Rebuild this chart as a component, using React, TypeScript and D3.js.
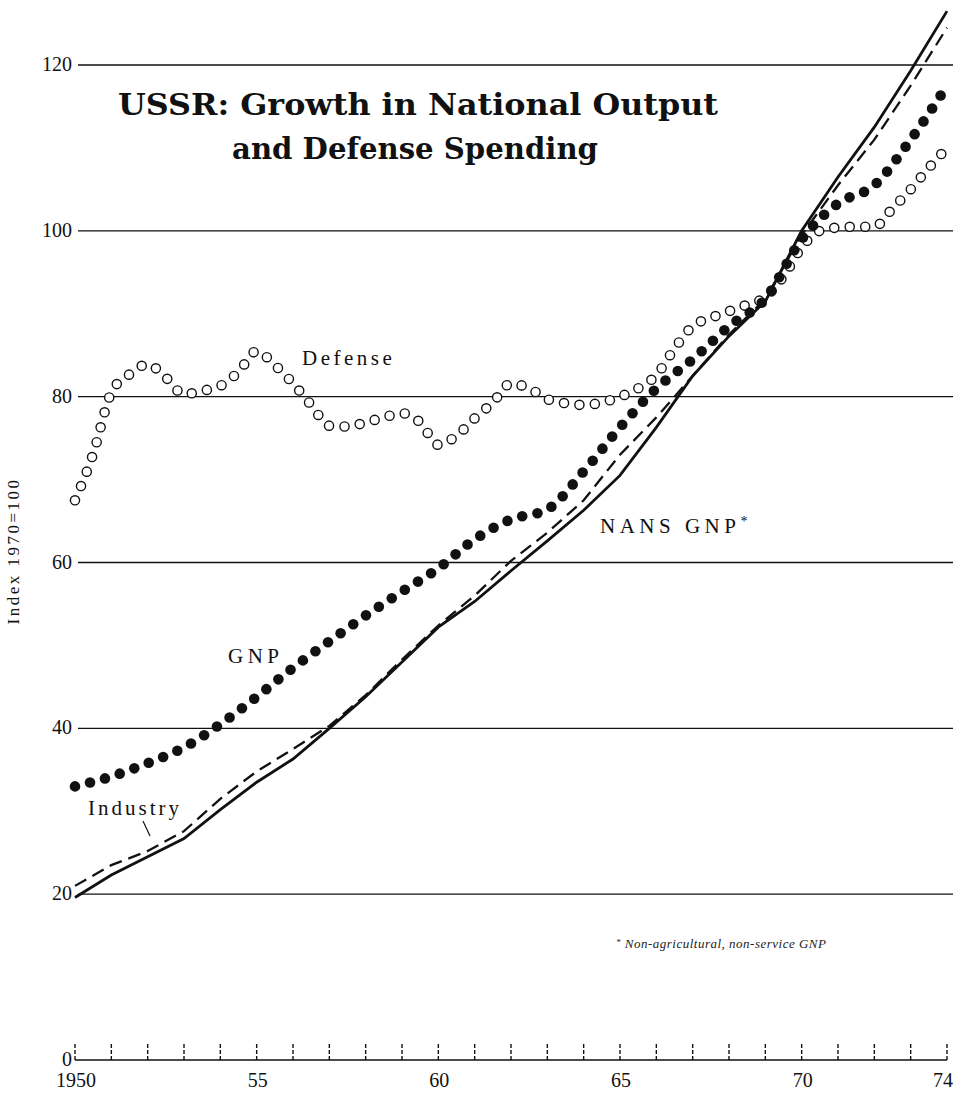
import * as d3 from 'd3';
import { useEffect, useRef } from 'react';

// years for the annual series
const years = [
  1950, 1951, 1952, 1953, 1954, 1955, 1956, 1957, 1958, 1959, 1960, 1961, 1962,
  1963, 1964, 1965, 1966, 1967, 1968, 1969, 1970, 1971, 1972, 1973, 1974,
];

// solid line (NANS GNP)
const nansGnp = [
  19.6, 22.3, 24.5, 26.7, 30.2, 33.5, 36.3, 40.0, 43.8, 48.0, 52.2, 55.3, 59.0,
  62.6, 66.3, 70.5, 76.3, 82.5, 87.3, 91.5, 100.0, 106.5, 112.5, 119.3, 126.5,
];

// dashed line (Industry)
const industry = [
  21.0, 23.5, 25.2, 27.6, 31.5, 34.8, 37.5, 40.3, 44.0, 48.3, 52.4, 56.0, 60.2,
  63.6, 67.5, 73.0, 77.5, 82.5, 87.5, 91.8, 99.5, 105.5, 111.0, 117.5, 124.5,
];

// filled dots (GNP)
const gnp = [
  33.0, 34.2, 35.8, 37.7, 40.5, 43.8, 47.3, 50.5, 53.6, 56.5, 59.3, 62.8, 65.2,
  66.4, 71.0, 76.3, 81.0, 84.5, 88.5, 91.8, 99.0, 103.3, 105.5, 111.0, 117.5,
];

// open circles (Defense), read at half-year steps
const defenseYears = [
  1950, 1950.5, 1951, 1951.5, 1952, 1952.5, 1953, 1953.5, 1954, 1954.5, 1955,
  1955.5, 1956, 1956.5, 1957, 1957.5, 1958, 1958.5, 1959, 1959.5, 1960, 1960.5,
  1961, 1961.5, 1962, 1962.5, 1963, 1963.5, 1964, 1964.5, 1965, 1965.5, 1966,
  1966.5, 1967, 1967.5, 1968, 1968.5, 1969, 1969.5, 1970, 1970.5, 1971, 1971.5,
  1972, 1972.5, 1973, 1973.5, 1974,
];
const defense = [
  67.5, 73.1, 80.5, 82.7, 83.9, 82.3, 80.3, 80.7, 81.3, 83.0, 85.5,
  83.8, 81.6, 79.0, 76.5, 76.4, 76.9, 77.5, 78.0, 76.9, 74.2, 75.3,
  77.4, 79.3, 81.6, 81.0, 79.7, 79.2, 79.0, 79.3, 80.0, 81.0, 82.6,
  85.8, 88.5, 89.5, 90.3, 91.1, 92.0, 94.5, 98.0, 100.0, 100.4, 100.5,
  100.5, 102.7, 105.0, 107.6, 110.0,
];

const gridValues = [20, 40, 60, 80, 100, 120];
const yTickValues = [0, 20, 40, 60, 80, 100, 120];
const xLabelYears = [1950, 1955, 1960, 1965, 1970, 1974];
const xLabels = ['1950', '55', '60', '65', '70', '74'];

const W = 953;
const H = 1093;
const serif = '"Liberation Serif", "Times New Roman", serif';

export default function App() {
  const ref = useRef<SVGSVGElement>(null);

  useEffect(() => {
    if (!ref.current) return;
    const svg = d3.select(ref.current);
    svg.selectAll('*').remove();

    const x = d3.scaleLinear().domain([1950, 1974]).range([75, 947]);
    const y = d3.scaleLinear().domain([0, 120]).range([1060, 65]);

    svg.append('rect').attr('width', W).attr('height', H).attr('fill', '#fff');

    // gridlines
    svg.append('g')
      .selectAll('line')
      .data(gridValues)
      .join('line')
      .attr('x1', 78)
      .attr('x2', W)
      .attr('y1', d => y(d))
      .attr('y2', d => y(d))
      .attr('stroke', '#111')
      .attr('stroke-width', 1.3);

    // baseline with yearly ticks
    svg.append('line')
      .attr('x1', x(1950)).attr('x2', x(1974))
      .attr('y1', y(0)).attr('y2', y(0))
      .attr('stroke', '#111').attr('stroke-width', 1.5);

    svg.append('g')
      .selectAll('line')
      .data(years)
      .join('line')
      .attr('x1', d => x(d))
      .attr('x2', d => x(d))
      .attr('y1', y(0))
      .attr('y2', y(0) - 17)
      .attr('stroke', '#111')
      .attr('stroke-width', 1.4)
      .attr('stroke-dasharray', '4,2');

    // y tick labels
    svg.append('g')
      .selectAll('text')
      .data(yTickValues)
      .join('text')
      .attr('x', 72)
      .attr('y', d => y(d) + 6)
      .attr('text-anchor', 'end')
      .attr('font-family', serif)
      .attr('font-size', 20)
      .attr('fill', '#111')
      .text(d => d);

    // x tick labels
    svg.append('g')
      .selectAll('text')
      .data(xLabelYears)
      .join('text')
      .attr('x', (d, i) => x(d) + (i === xLabels.length - 1 ? -4 : 1))
      .attr('y', 1087)
      .attr('text-anchor', 'middle')
      .attr('font-family', serif)
      .attr('font-size', 20)
      .attr('fill', '#111')
      .text((d, i) => xLabels[i]);

    // y-axis title
    svg.append('text')
      .attr('transform', 'translate(19,551) rotate(-90)')
      .attr('text-anchor', 'middle')
      .attr('font-family', serif)
      .attr('font-size', 17)
      .attr('letter-spacing', 2.5)
      .attr('fill', '#111')
      .text('Index 1970=100');

    // lines
    const straight = d3.line<number>()
      .x((d, i) => x(years[i]))
      .y(d => y(d));

    svg.append('path')
      .attr('d', straight(industry))
      .attr('fill', 'none')
      .attr('stroke', '#111')
      .attr('stroke-width', 2.3)
      .attr('stroke-dasharray', '13,7');

    svg.append('path')
      .attr('d', straight(nansGnp))
      .attr('fill', 'none')
      .attr('stroke', '#111')
      .attr('stroke-width', 2.8);

    // dotted series: sample points along a smooth path through the data
    const alongPath = (d: string, step: number) => {
      const p = svg.append('path').attr('d', d).attr('fill', 'none');
      const node = p.node() as SVGPathElement;
      const len = node.getTotalLength();
      const pts: DOMPoint[] = [];
      for (let s = 0; s <= len + 0.5; s += step) pts.push(node.getPointAtLength(Math.min(s, len)));
      p.remove();
      return pts;
    };

    const smooth = d3.line<[number, number]>()
      .x(d => x(d[0]))
      .y(d => y(d[1]))
      .curve(d3.curveMonotoneX);

    const defensePts = alongPath(
      smooth(defenseYears.map((yr, i) => [yr, defense[i]] as [number, number])) || '',
      15.5,
    );
    svg.append('g')
      .selectAll('circle')
      .data(defensePts)
      .join('circle')
      .attr('cx', d => d.x)
      .attr('cy', d => d.y)
      .attr('r', 4.6)
      .attr('fill', '#fff')
      .attr('stroke', '#111')
      .attr('stroke-width', 1.4);

    const gnpPts = alongPath(
      smooth(years.map((yr, i) => [yr, gnp[i]] as [number, number])) || '',
      15.5,
    );
    svg.append('g')
      .selectAll('circle')
      .data(gnpPts)
      .join('circle')
      .attr('cx', d => d.x)
      .attr('cy', d => d.y)
      .attr('r', 5.3)
      .attr('fill', '#111');

    // series labels
    const label = (tx: number, ty: number, txt: string, spacing: number) =>
      svg.append('text')
        .attr('x', tx)
        .attr('y', ty)
        .attr('font-family', serif)
        .attr('font-size', 21)
        .attr('letter-spacing', spacing)
        .attr('fill', '#111')
        .text(txt);

    label(302, 365, 'Defense', 3.5);
    label(228, 663, 'GNP', 4.5);
    label(88, 815, 'Industry', 3);
    const nans = label(600, 533, 'NANS GNP', 4.5);
    nans.append('tspan').attr('font-size', 14).attr('dy', -7).text('*');

    svg.append('line')
      .attr('x1', 143).attr('y1', 821)
      .attr('x2', 150).attr('y2', 836)
      .attr('stroke', '#111').attr('stroke-width', 1.2);

    // title
    const title = svg.append('text')
      .attr('font-family', '"DejaVu Serif", serif')
      .attr('font-weight', 'bold')
      .attr('font-size', 29)
      .attr('fill', '#111');
    title.append('tspan')
      .attr('x', 118).attr('y', 115)
      .attr('textLength', 600).attr('lengthAdjust', 'spacingAndGlyphs')
      .text('USSR: Growth in National Output');
    title.append('tspan')
      .attr('x', 232).attr('y', 159)
      .attr('textLength', 366).attr('lengthAdjust', 'spacingAndGlyphs')
      .text('and Defense Spending');

    // footnote
    const foot = svg.append('text')
      .attr('x', 616)
      .attr('y', 948)
      .attr('font-family', serif)
      .attr('font-style', 'italic')
      .attr('font-size', 13)
      .attr('letter-spacing', 0.5)
      .attr('fill', '#222');
    foot.append('tspan').attr('font-size', 9).attr('dy', -3).text('*');
    foot.append('tspan').attr('dy', 3).text(' Non-agricultural, non-service GNP');
  }, []);

  return (
    <svg
      ref={ref}
      width={W}
      height={H}
      style={{ position: 'absolute', left: 0, top: 0, display: 'block' }}
    />
  );
}
